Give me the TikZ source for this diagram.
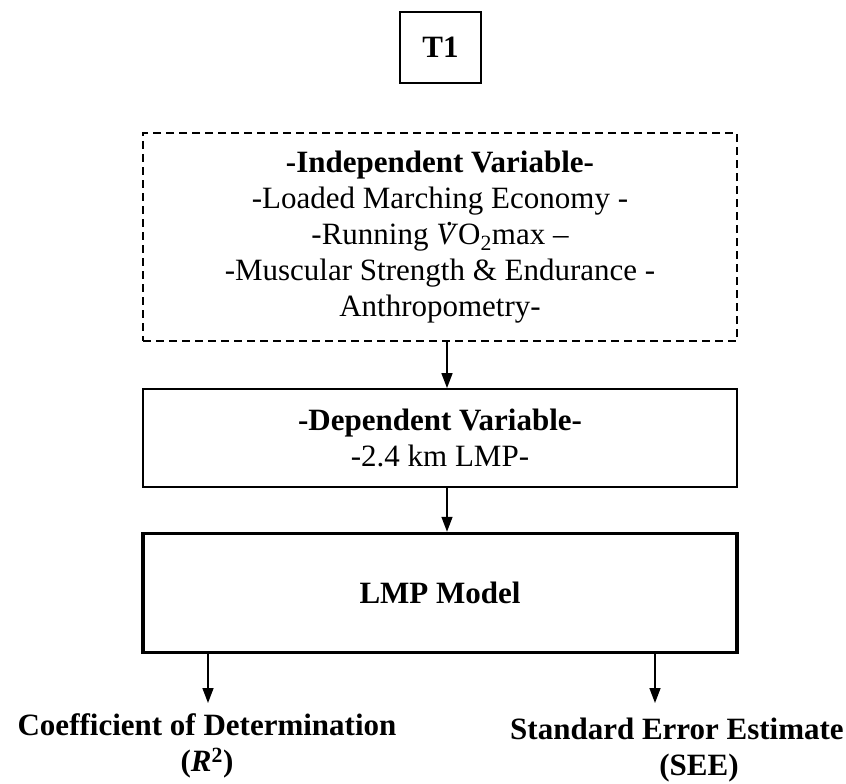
\documentclass[tikz,border=0pt]{standalone}
\usepackage{fontspec}
\setmainfont{Liberation Serif}
\usetikzlibrary{arrows.meta}
\newcommand{\vdotsym}{\makebox[0pt][l]{\hspace{0.3em}\raisebox{0.6em}{.}}\textit{V}}
\begin{document}
\begin{tikzpicture}[x=1pt,y=-1pt,
  txt/.style={font=\fontsize{31}{36}\selectfont, align=center, inner sep=0pt},
  btxt/.style={font=\fontsize{31}{36}\selectfont\bfseries, align=center, inner sep=0pt},
  boxline/.style={draw, line width=1.8pt},
  dashbox/.style={draw, line width=1.8pt, dash pattern=on 8pt off 5pt},
  thickbox/.style={draw, line width=3.5pt},
  arr/.style={-{Triangle[width=11pt,length=15pt]}, line width=1.5pt}]
\useasboundingbox (0,0) rectangle (846,784);

\node[boxline, btxt, minimum width=81pt, minimum height=71pt] (t1) at (440.5,47.5) {T1};

\node[dashbox, txt, minimum width=594pt, minimum height=208pt] (indep) at (440,237) {\textbf{-Independent Variable-}\\
-Loaded Marching Economy -\\
-Running \vdotsym O\textsubscript{2}max --\\
-Muscular Strength \& Endurance -\\
Anthropometry-};

\node[boxline, txt, minimum width=594pt, minimum height=98pt] (dep) at (440,438) {\textbf{-Dependent Variable-}\\-2.4 km LMP-};

\node[thickbox, btxt, minimum width=594pt, minimum height=119pt] (lmp) at (440,593) {LMP Model};

\node[btxt] (coef) at (207,746) {Coefficient of Determination\\(\textit{R}\textsuperscript{2})};
\node[btxt] (see) at (677,750) {Standard Error Estimate\\\hspace*{44pt}(SEE)};

\coordinate (c1) at (208,703);
\coordinate (c2) at (655,703);

\draw[arr] ([xshift=7pt]indep.south) -- ([xshift=7pt]dep.north);
\draw[arr] ([xshift=7pt]dep.south) -- ([xshift=7pt]lmp.north);
\draw[arr] (lmp.south -| c1) -- (c1);
\draw[arr] (lmp.south -| c2) -- (c2);
\end{tikzpicture}
\end{document}
